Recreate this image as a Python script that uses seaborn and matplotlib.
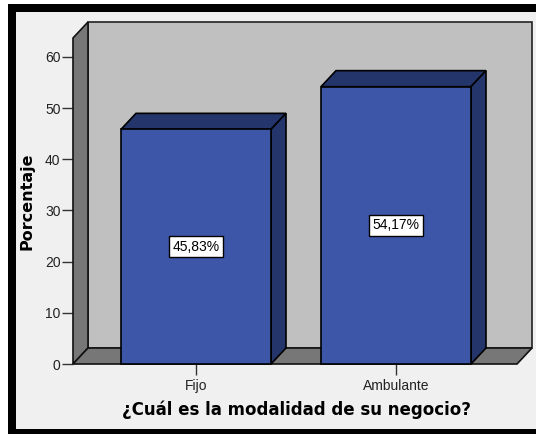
import numpy as np
import pandas as pd
import seaborn as sns
import matplotlib
matplotlib.use('Agg')
import matplotlib.pyplot as plt
from matplotlib.patches import Polygon, Rectangle

# data
categorias = ['Fijo', 'Ambulante']
porcentajes = [45.83, 54.17]
yticks = [0, 10, 20, 30, 40, 50, 60]

sns.set_style('white')
plt.rcParams['font.family'] = ['Liberation Sans', 'DejaVu Sans']

W, H = 536, 434
fig = plt.figure(figsize=(W / 100, H / 100), dpi=100)
fig.patch.set_facecolor('white')

# frame: black border on left/top/bottom, light gray inside
fig.patches.append(Rectangle((8 / W, 0), 1, 1 - 4 / H, transform=fig.transFigure,
                             facecolor='black', edgecolor='none', zorder=-10))
fig.patches.append(Rectangle((16 / W, 5 / H), 1, 1 - 17 / H, transform=fig.transFigure,
                             facecolor='#F0F0F0', edgecolor='none', zorder=-9))

# axes span front plane left edge to back wall right edge
x_left, x_right, y_zero, y_top = 73, 532, 364, 22
ax = fig.add_axes([x_left / W, (H - y_zero) / H, (x_right - x_left) / W, (y_zero - y_top) / H])
ax.set_facecolor('none')

px_x = 1 / 200.0     # data units per pixel (x)
px_y = 10 / 51.2     # data units per pixel (y)
xmin = (x_left - 196) * px_x
xmax = (x_right - 196) * px_x
ymax = (y_zero - y_top) * px_y
dx, dy = 15 * px_x, 16 * px_y

df = pd.DataFrame({'modalidad': categorias, 'porcentaje': porcentajes})
front = '#3E56A8'
dark = '#24356B'
sns.barplot(data=df, x='modalidad', y='porcentaje', ax=ax, width=0.75, color=front,
            saturation=1, edgecolor='black', linewidth=1.2)

ax.set_xlim(xmin, xmax)
ax.set_ylim(0, ymax)

lw = 1.2
# back wall
ax.add_patch(Polygon([(xmin + dx, dy), (xmax, dy), (xmax, ymax), (xmin + dx, ymax)],
                     closed=True, facecolor='#C0C0C0', edgecolor='#222222', lw=lw, zorder=0.5, clip_on=False))
# left wall
ax.add_patch(Polygon([(xmin, 0), (xmin + dx, dy), (xmin + dx, ymax), (xmin, ymax - dy)],
                     closed=True, facecolor='#777777', edgecolor='#111111', lw=lw, zorder=0.6, clip_on=False))
# floor
ax.add_patch(Polygon([(xmin, 0), (xmax - dx, 0), (xmax, dy), (xmin + dx, dy)],
                     closed=True, facecolor='#777777', edgecolor='#111111', lw=lw, zorder=0.6, clip_on=False))

# 3D faces for each bar
for bar, v in zip(ax.patches[:len(categorias)], porcentajes):
    x0 = bar.get_x()
    x1 = x0 + bar.get_width()
    h = bar.get_height()
    bar.set_zorder(3)
    bar.set_clip_on(False)
    ax.add_patch(Polygon([(x0, h), (x1, h), (x1 + dx, h + dy), (x0 + dx, h + dy)], closed=True,
                         facecolor=dark, edgecolor='black', lw=lw, zorder=2.5, clip_on=False))
    ax.add_patch(Polygon([(x1, 0), (x1, h), (x1 + dx, h + dy), (x1 + dx, dy)], closed=True,
                         facecolor=dark, edgecolor='black', lw=lw, zorder=2.5, clip_on=False))
    ax.text(x0 + bar.get_width() / 2, h / 2, f'{v:.2f}%'.replace('.', ','), ha='center', va='center',
            fontsize=10, color='black', zorder=5,
            bbox=dict(boxstyle='square,pad=0.25', facecolor='white', edgecolor='black', lw=1))

for s in ax.spines.values():
    s.set_visible(False)

ax.set_yticks(yticks)
ax.set_yticklabels([str(t) for t in yticks])
ax.tick_params(axis='y', direction='out', length=8, width=1, color='#333333', pad=1,
               labelsize=10, labelcolor='#222222', left=True)
ax.tick_params(axis='x', direction='out', length=8, width=1, color='#333333', pad=3,
               labelsize=10, labelcolor='#222222', bottom=True)
ax.set_xlabel('')
ax.set_ylabel('')

fig.text(27 / W, 1 - 201 / H, 'Porcentaje', rotation=90, ha='center', va='center',
         fontsize=11.5, fontweight='bold', family='DejaVu Sans', color='black')
fig.text(296 / W, 1 - 410 / H, '¿Cuál es la modalidad de su negocio?', ha='center', va='center',
         fontsize=12, fontweight='bold', family='DejaVu Sans', color='black')

fig.savefig('out.png', dpi=100, facecolor=fig.get_facecolor())
